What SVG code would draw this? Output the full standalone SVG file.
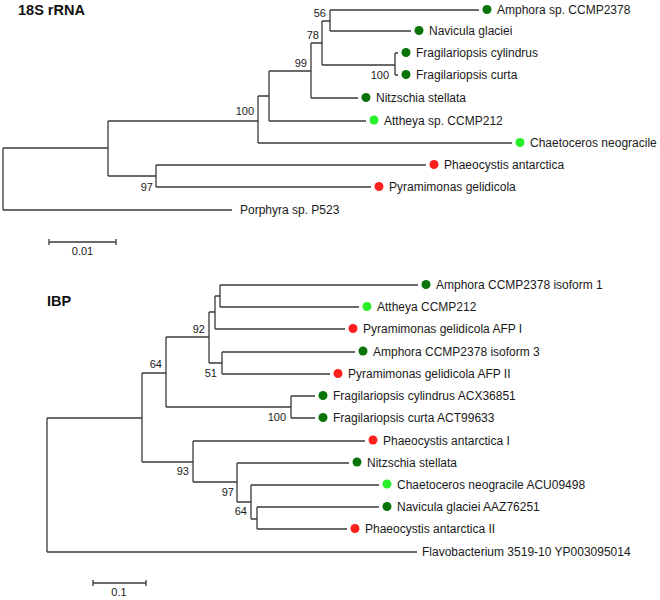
<svg xmlns="http://www.w3.org/2000/svg" width="660" height="600" viewBox="0 0 660 600">
<style>
.br{fill:none;stroke:#3a3a3a;stroke-width:1.3}
.lab{font-family:"Liberation Sans",Arial,sans-serif;font-size:12px;fill:#1a1a1a}
.bs{font-family:"Liberation Sans",Arial,sans-serif;font-size:11px;fill:#1a1a1a;text-anchor:end}
.title{font-family:"Liberation Sans",Arial,sans-serif;font-size:14.5px;font-weight:bold;fill:#111}
.dg{fill:#0a740a}.lg{fill:#2bef2b}.rd{fill:#ff1f1f}
</style>
<rect width="660" height="600" fill="#fff"/>
<text class="title" x="18" y="15">18S rRNA</text>
<text class="title" x="47" y="306">IBP</text>
<g id="connectors">
<path class="br" d="M3,148V210M108,121V176M258,96V143M269,71V121M311,43V98M322,21V65M330,10V31M395,53V75M156,165V187
M3,148H108M108,121H258M108,176H156M258,96H269M269,71H311M311,43H322M322,21H330M322,65H395
M330,10H479M330,31H411M395,53H398M395,75H398M311,98H358M269,121H366M258,143H512M156,165H426M156,187H371M3,210H232"/>
<path class="br" d="M47,418V552M142,373V462M166,337V407M209,312V363M215,296V329M220,285V307M222,352V374M291,396V418M193,441V482M237,463V502M251,485V519M257,507V529
M47,418H142M142,373H166M142,462H193M166,337H209M166,407H291M209,312H215M209,363H222M215,296H220M193,482H237M237,502H251M251,519H257
M220,285H418M220,307H359M215,329H345M222,352H355M222,374H330M291,396H315M291,418H315M193,441H365M237,463H349M251,485H379M257,507H379M257,529H347M47,552H417"/>
<path class="br" d="M49,242H116M49,239V245M116,239V245M93,583H146M93,580V586M146,580V586"/>
</g>
<g id="bootstrap">
<text class="bs" x="326" y="17">56</text>
<text class="bs" x="319" y="39">78</text>
<text class="bs" x="307" y="67">99</text>
<text class="bs" x="254" y="115">100</text>
<text class="bs" x="153" y="191">97</text>
<text class="bs" x="389" y="79">100</text>
<text class="bs" x="162" y="368">64</text>
<text class="bs" x="205" y="333">92</text>
<text class="bs" x="286" y="421">100</text>
<text class="bs" x="217" y="377">51</text>
<text class="bs" x="189" y="475">93</text>
<text class="bs" x="234" y="496">97</text>
<text class="bs" x="247" y="515">64</text>
</g>
<g id="scale-top"><text class="bs" style="text-anchor:middle" x="82.5" y="255">0.01</text></g>
<g id="scale-bottom"><text class="bs" style="text-anchor:middle" x="119" y="596">0.1</text></g>
<g id="t-amphora"><circle class="dg" cx="487" cy="9.5" r="4.5"/><text class="lab" x="497" y="14">Amphora sp. CCMP2378</text></g>
<g id="t-navicula"><circle class="dg" cx="419" cy="30.5" r="4.5"/><text class="lab" x="429" y="35">Navicula glaciei</text></g>
<g id="t-fcyl"><circle class="dg" cx="406" cy="52.5" r="4.5"/><text class="lab" x="416" y="57">Fragilariopsis cylindrus</text></g>
<g id="t-fcur"><circle class="dg" cx="406" cy="74.5" r="4.5"/><text class="lab" x="416" y="79">Fragilariopsis curta</text></g>
<g id="t-nitz"><circle class="dg" cx="366" cy="97.5" r="4.5"/><text class="lab" x="376" y="102">Nitzschia stellata</text></g>
<g id="t-atth"><circle class="lg" cx="374" cy="120" r="4.5"/><text class="lab" x="384" y="125">Attheya sp. CCMP212</text></g>
<g id="t-chae"><circle class="lg" cx="520" cy="142.5" r="4.5"/><text class="lab" x="530" y="147">Chaetoceros neogracile</text></g>
<g id="t-phae"><circle class="rd" cx="434" cy="164.5" r="4.5"/><text class="lab" x="444" y="169">Phaeocystis antarctica</text></g>
<g id="t-pyra"><circle class="rd" cx="379" cy="186.5" r="4.5"/><text class="lab" x="389" y="191">Pyramimonas gelidicola</text></g>
<g id="t-porph"><text class="lab" x="240" y="214">Porphyra sp. P523</text></g>
<g id="b-amph1"><circle class="dg" cx="426" cy="284.5" r="4.5"/><text class="lab" x="436" y="289">Amphora CCMP2378 isoform 1</text></g>
<g id="b-atth"><circle class="lg" cx="367" cy="306.5" r="4.5"/><text class="lab" x="377" y="311">Attheya CCMP212</text></g>
<g id="b-pyr1"><circle class="rd" cx="353" cy="328.5" r="4.5"/><text class="lab" x="363" y="333">Pyramimonas gelidicola AFP I</text></g>
<g id="b-amph3"><circle class="dg" cx="363" cy="351" r="4.5"/><text class="lab" x="373" y="356">Amphora CCMP2378 isoform 3</text></g>
<g id="b-pyr2"><circle class="rd" cx="338" cy="373.5" r="4.5"/><text class="lab" x="348" y="378">Pyramimonas gelidicola AFP II</text></g>
<g id="b-fcyl"><circle class="dg" cx="323" cy="395.5" r="4.5"/><text class="lab" x="333" y="400">Fragilariopsis cylindrus ACX36851</text></g>
<g id="b-fcur"><circle class="dg" cx="323" cy="417.5" r="4.5"/><text class="lab" x="333" y="422">Fragilariopsis curta ACT99633</text></g>
<g id="b-phae1"><circle class="rd" cx="373" cy="440" r="4.5"/><text class="lab" x="383" y="445">Phaeocystis antarctica I</text></g>
<g id="b-nitz"><circle class="dg" cx="357" cy="462" r="4.5"/><text class="lab" x="367" y="467">Nitzschia stellata</text></g>
<g id="b-chae"><circle class="lg" cx="387" cy="484" r="4.5"/><text class="lab" x="397" y="489">Chaetoceros neogracile ACU09498</text></g>
<g id="b-navi"><circle class="dg" cx="387" cy="506.5" r="4.5"/><text class="lab" x="397" y="511">Navicula glaciei AAZ76251</text></g>
<g id="b-phae2"><circle class="rd" cx="355" cy="528.5" r="4.5"/><text class="lab" x="365" y="533">Phaeocystis antarctica II</text></g>
<g id="b-flavo"><text class="lab" x="422" y="556">Flavobacterium 3519-10 YP003095014</text></g>
</svg>
